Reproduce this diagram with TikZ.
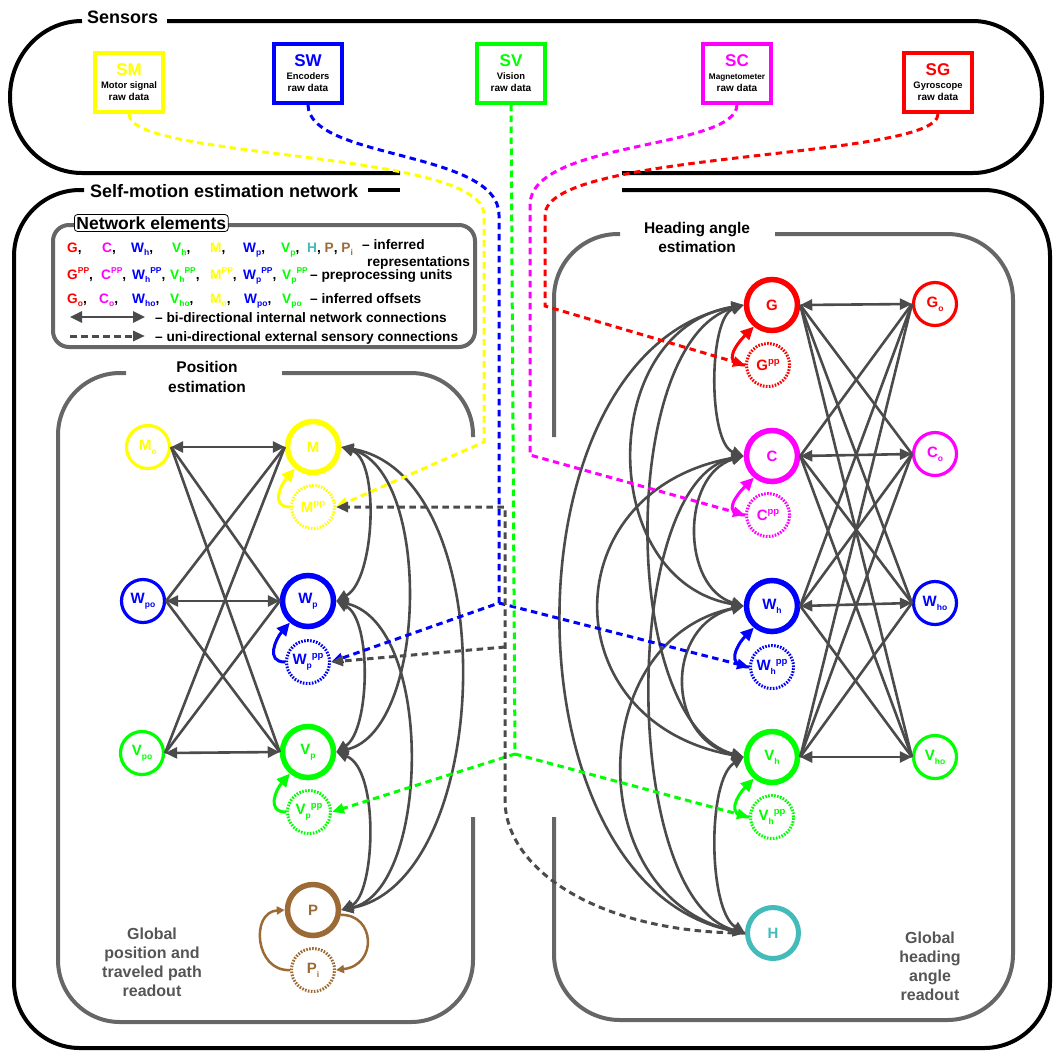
\documentclass[tikz,border=0pt]{standalone}
\usepackage{fontspec}
\setmainfont{Liberation Sans}
\usetikzlibrary{arrows.meta}

\definecolor{cyel}{HTML}{FFFF00}
\definecolor{cblu}{HTML}{0000FF}
\definecolor{cgrn}{HTML}{00FF00}
\definecolor{cmag}{HTML}{FF00FF}
\definecolor{cred}{HTML}{FF0000}
\definecolor{cbrn}{HTML}{9C6A35}
\definecolor{ctea}{HTML}{44BBBB}
\definecolor{lnk}{HTML}{4B4B4B}
\definecolor{pan}{HTML}{666666}
\definecolor{rdt}{HTML}{555555}

% sub- and superscripts inside the unit circles
\newcommand\lo[1]{\raisebox{-0.5ex}{\fontsize{8.5}{8.5}\selectfont #1}}
\newcommand\hi[1]{\raisebox{0.75ex}{\fontsize{9.5}{9.5}\selectfont #1}}
% sub- and superscripts in the legend
\newcommand\llo[1]{\raisebox{-0.5ex}{\fontsize{8.5}{8.5}\selectfont #1}}
\newcommand\lhi[1]{\raisebox{0.7ex}{\fontsize{8.5}{8.5}\selectfont #1}}
\newcommand\lgfont{\bfseries\fontsize{13.7}{14}\selectfont}

\tikzset{
  rep/.style={circle, draw, line width=5.5pt, minimum size=51pt, inner sep=0pt,
    font=\bfseries\fontsize{15}{15}\selectfont},
  off/.style={circle, draw, line width=3.2pt, minimum size=43pt, inner sep=0pt,
    font=\bfseries\fontsize{15}{15}\selectfont},
  ppn/.style={circle, draw, line width=3pt, dash pattern=on 1.6pt off 1.4pt,
    minimum size=43pt, inner sep=0pt, font=\bfseries\fontsize{15}{15}\selectfont},
  sbox/.style={draw, line width=4pt, minimum width=68pt, minimum height=59pt,
    inner sep=0pt, align=center, font=\bfseries},
  link/.style={draw=lnk, line width=2.6pt,
    {Triangle[length=12pt,width=11pt]}-{Triangle[length=12pt,width=11pt]}},
  wire/.style={draw=lnk, line width=2.6pt},
  sense/.style={line width=3pt, dash pattern=on 6.5pt off 4.5pt,
    -{Triangle[length=12pt,width=10pt]}},
  loopa/.style={line width=3pt, -{Triangle[length=13pt,width=12pt]}},
  bloop/.style={line width=2.5pt, cbrn, -{Triangle[length=8pt,width=8pt]}},
  frame/.style={draw=black, line width=4pt},
  panel/.style={draw=pan, line width=4pt},
  lg/.style={anchor=base west, inner sep=0pt, font=\lgfont},
  ttl/.style={anchor=base west, inner sep=0pt, font=\bfseries\fontsize{18}{18}\selectfont},
}

\begin{document}
\begin{tikzpicture}[x=1pt,y=-1pt]
\useasboundingbox (0,0) rectangle (1054,1050);

% ---------------- outer frames ----------------
\draw[frame] (167,21) -- (973,21) .. controls (1011,21) and (1042,55) .. (1042,97)
  .. controls (1042,139) and (1011,173) .. (973,173) -- (622,173);
\draw[frame] (400,173) -- (82,173) .. controls (42,173) and (10,139) .. (10,97)
  .. controls (10,55) and (42,21) .. (82,21);
\node[ttl] (tS) at (87,23) {Sensors};

\draw[frame, rounded corners=66] (622,190) -- (1050,190) -- (1050,1048) -- (14,1048) -- (14,190) -- (84,190);
\draw[frame] (368,190) -- (400,190);
\node[ttl] (tN) at (90,197) {Self-motion estimation network};

% ---------------- panels ----------------
\draw[panel, rounded corners=62] (282,373) -- (473,373) -- (473,437);
\draw[panel, rounded corners=62] (473,817) -- (473,1022) -- (58,1022) -- (58,373) -- (126,373);
\node[align=center, font=\bfseries\fontsize{15.5}{20}\selectfont] (tP) at (207,377) {Position\\estimation};

\draw[panel, rounded corners=64] (554,437) -- (554,234) -- (620,234);
\draw[panel, rounded corners=66] (775,234) -- (1013,234) -- (1013,1020) -- (554,1020) -- (554,817);
\node[align=center, font=\bfseries\fontsize{15.5}{19}\selectfont] (tH) at (697,237) {Heading angle\\estimation};

\node[align=center, text=rdt, font=\bfseries\fontsize{16}{19}\selectfont] (rP) at (152,962)
  {Global\\position and\\traveled path\\readout};
\node[align=center, text=rdt, font=\bfseries\fontsize{16}{19}\selectfont] (rH) at (930,966)
  {Global\\heading\\angle\\readout};

% ---------------- legend ----------------
\draw[panel, rounded corners=16] (53,225) rectangle (475,347);
\node[draw=black, line width=0.8pt, fill=white, rounded corners=3pt, inner xsep=2pt, inner ysep=2pt,
  anchor=west, font=\bfseries\fontsize{17.5}{18}\selectfont] (ne) at (74,223) {Network elements};

\node[lg] (l11) at (67,252) {\textcolor{cred}{G},};
\node[lg] (l12) at (102,252) {\textcolor{cmag}{C},};
\node[lg] (l13) at (131,252) {\textcolor{cblu}{W\llo{h}},};
\node[lg] (l14) at (172,252) {\textcolor{cgrn}{V\llo{h}},};
\node[lg] (l15) at (210,252) {\textcolor{cyel}{M},};
\node[lg] (l16) at (243,252) {\textcolor{cblu}{W\llo{p}},};
\node[lg] (l17) at (281,252) {\textcolor{cgrn}{V\llo{p}},};
\node[lg] (l18) at (307,252) {\textcolor{ctea}{H}, \textcolor{cbrn}{P}, \textcolor{cbrn}{P\llo{i}}};
\node[lg] (l19) at (362,249) {-- inferred};
\node[lg] (l1a) at (367,266) {representations};

\node[lg] (l21) at (67,279) {\textcolor{cred}{G\lhi{PP}},};
\node[lg] (l22) at (101,279) {\textcolor{cmag}{C\lhi{PP}},};
\node[lg] (l23) at (132,279) {\textcolor{cblu}{W\llo{h}\lhi{PP}},};
\node[lg] (l24) at (170,279) {\textcolor{cgrn}{V\llo{h}\lhi{PP}},};
\node[lg] (l25) at (210,279) {\textcolor{cyel}{M\lhi{PP}},};
\node[lg] (l26) at (243,279) {\textcolor{cblu}{W\llo{p}\lhi{PP}},};
\node[lg] (l27) at (282,279) {\textcolor{cgrn}{V\llo{p}\lhi{PP}}};
\node[lg] (l28) at (310,279) {-- preprocessing units};

\node[lg] (l31) at (67,303) {\textcolor{cred}{G\llo{o}},};
\node[lg] (l32) at (99,303) {\textcolor{cmag}{C\llo{o}},};
\node[lg] (l33) at (132,303) {\textcolor{cblu}{W\llo{ho}},};
\node[lg] (l34) at (170,303) {\textcolor{cgrn}{V\llo{ho}},};
\node[lg] (l35) at (210,303) {\textcolor{cyel}{M\llo{o}},};
\node[lg] (l36) at (244,303) {\textcolor{cblu}{W\llo{po}},};
\node[lg] (l37) at (282,303) {\textcolor{cgrn}{V\llo{po}}};
\node[lg] (l38) at (310,303) {-- inferred offsets};

\coordinate (a4s) at (70,317); \coordinate (a4e) at (145,317);
\draw[link] (a4s) -- (a4e);
\node[lg] (l4) at (155,322) {-- bi-directional internal network connections};
\coordinate (a5s) at (70,336); \coordinate (a5e) at (145,336);
\draw[sense, lnk] (a5s) -- (a5e);
\node[lg] (l5) at (155,341) {-- uni-directional external sensory connections};

% ---------------- sensors ----------------
\node[sbox, draw=cyel] (SM) at (129,82.5)
  {\fontsize{17}{18}\selectfont\color{cyel}SM\\[1pt]\fontsize{9.4}{11}\selectfont\color{black}Motor signal\\raw data};
\node[sbox, draw=cblu] (SW) at (308,73)
  {\fontsize{17}{18}\selectfont\color{cblu}SW\\[1pt]\fontsize{9.4}{11}\selectfont\color{black}Encoders\\raw data};
\node[sbox, draw=cgrn] (SV) at (511,73)
  {\fontsize{17}{18}\selectfont\color{cgrn}SV\\[1pt]\fontsize{9.4}{11}\selectfont\color{black}Vision\\raw data};
\node[sbox, draw=cmag] (SC) at (737,73)
  {\fontsize{17}{18}\selectfont\color{cmag}SC\\[1pt]\fontsize{8.2}{10}\selectfont\color{black}Magnetometer\\raw data};
\node[sbox, draw=cred] (SG) at (938,82.5)
  {\fontsize{17}{18}\selectfont\color{cred}SG\\[1pt]\fontsize{9.4}{11}\selectfont\color{black}Gyroscope\\raw data};

% ---------------- position estimation units ----------------
\node[off, draw=cyel, text=cyel] (Mo) at (148,447) {M\lo{o}};
\node[rep, draw=cyel, text=cyel] (M) at (313,447) {M};
\node[ppn, draw=cyel, text=cyel] (Mpp) at (313,507) {M\hi{pp}};
\node[off, draw=cblu, text=cblu] (Wpo) at (143,601) {W\lo{po}};
\node[rep, draw=cblu, text=cblu] (Wp) at (308,601) {W\lo{p}};
\node[ppn, draw=cblu, text=cblu] (Wppp) at (308,662) {W\lo{p}\hi{pp}};
\node[off, draw=cgrn, text=cgrn] (Vpo) at (142,753) {V\lo{po}};
\node[rep, draw=cgrn, text=cgrn] (Vp) at (308,752) {V\lo{p}};
\node[ppn, draw=cgrn, text=cgrn] (Vppp) at (309,812) {V\lo{p}\hi{pp}};
\node[rep, draw=cbrn, text=cbrn] (P) at (313,910) {P};
\node[ppn, draw=cbrn, text=cbrn] (Pi) at (313,970) {P\lo{i}};

% ---------------- heading estimation units ----------------
\node[rep, draw=cred, text=cred] (G) at (772,305) {G};
\node[ppn, draw=cred, text=cred] (Gpp) at (768,365) {G\hi{pp}};
\node[off, draw=cred, text=cred] (Go) at (935,304) {G\lo{o}};
\node[rep, draw=cmag, text=cmag] (C) at (772,456) {C};
\node[ppn, draw=cmag, text=cmag] (Cpp) at (768,515) {C\hi{pp}};
\node[off, draw=cmag, text=cmag] (Co) at (935,454) {C\lo{o}};
\node[rep, draw=cblu, text=cblu] (Wh) at (772,606) {W\lo{h}};
\node[ppn, draw=cblu, text=cblu] (Whpp) at (772,667) {W\lo{h}\hi{pp}};
\node[off, draw=cblu, text=cblu] (Who) at (935,603) {W\lo{ho}};
\node[rep, draw=cgrn, text=cgrn] (Vh) at (772,757) {V\lo{h}};
\node[ppn, draw=cgrn, text=cgrn] (Vhpp) at (772,817) {V\lo{h}\hi{pp}};
\node[off, draw=cgrn, text=cgrn] (Vho) at (935,757) {V\lo{ho}};
\node[rep, draw=ctea, text=ctea, line width=5pt] (H) at (773,933) {H};

% ---------------- offsets <-> representations ----------------
\draw[link] (Mo.east) -- (M.west);
\draw[link] (Wpo.east) -- (Wp.west);
\draw[link] (Vpo.east) -- (Vp.west);
\foreach \a/\b in {Mo/Wp, Mo/Vp, Wpo/M, Wpo/Vp, Vpo/M, Vpo/Wp}
  {\draw[wire] (\a.east) -- (\b.west);}

\draw[link] (G.east) -- (Go.west);
\draw[link] (C.east) -- (Co.west);
\draw[link] (Wh.east) -- (Who.west);
\draw[link] (Vh.east) -- (Vho.west);
\foreach \a/\b in {G/Co, G/Who, G/Vho, C/Go, C/Who, C/Vho, Wh/Go, Wh/Co, Wh/Vho, Vh/Go, Vh/Co, Vh/Who}
  {\draw[wire] (\a.east) -- (\b.west);}

% ---------------- position network links ----------------
\draw[link] (M.east) .. controls (380,460) and (375,580) .. (Wp.east);
\draw[link] (M.east) .. controls (432,470) and (428,730) .. (Vp.east);
\draw[link] (M.east) .. controls (505,475) and (495,880) .. (P.east);
\draw[link] (Wp.east) .. controls (372,620) and (370,730) .. (Vp.east);
\draw[link] (Wp.east) .. controls (435,625) and (430,890) .. (P.east);
\draw[link] (Vp.east) .. controls (380,770) and (375,895) .. (P.east);

% ---------------- heading network links ----------------
\draw[link] (G.west) .. controls (708,318) and (708,443) .. (C.west);
\draw[link] (C.west) .. controls (681,475) and (681,587) .. (Wh.west);
\draw[link] (Wh.west) .. controls (665,625) and (665,738) .. (Vh.west);
\draw[link] (Vh.west) .. controls (707,780) and (708,910) .. (H.west);
\draw[link] (G.west) .. controls (596,330) and (596,581) .. (Wh.west);
\draw[link] (C.west) .. controls (552,490) and (552,723) .. (Vh.west);
\draw[link] (Wh.west) .. controls (582,640) and (583,899) .. (H.west);
\draw[link] (G.west) .. controls (619,340) and (619,722) .. (Vh.west);
\draw[link] (C.west) .. controls (620,480) and (620,900) .. (H.west);
\draw[link] (G.west) .. controls (501,350) and (502,888) .. (H.west);

% ---------------- preprocessing feed-in ----------------
\draw[loopa, cyel] (Mpp.west) .. controls +(-20,0) and +(-14,16) .. (M.-130);
\draw[loopa, cblu] (Wppp.west) .. controls +(-20,0) and +(-14,16) .. (Wp.-130);
\draw[loopa, cgrn] (Vppp.west) .. controls +(-20,0) and +(-14,16) .. (Vp.-130);
\draw[loopa, cred] (Gpp.west) .. controls +(-25,0) and +(-16,16) .. (G.-130);
\draw[loopa, cmag] (Cpp.west) .. controls +(-25,0) and +(-16,16) .. (C.-130);
\draw[loopa, cblu] (Whpp.west) .. controls +(-25,0) and +(-16,16) .. (Wh.-130);
\draw[loopa, cgrn] (Vhpp.west) .. controls +(-25,0) and +(-16,16) .. (Vh.-130);

\draw[bloop] (Pi.west) .. controls (255,972) and (250,912) .. (P.west);
\draw[bloop] (P.-10) .. controls (375,914) and (378,965) .. (Pi.east);

% ---------------- sensory connections ----------------
\coordinate (bc) at (499,603);
\coordinate (gc) at (515,754);
\coordinate (ht) at (505,507);
\coordinate (hm) at (505,647);
\coordinate (hb) at (505,800);

\draw[sense, cyel] (SM.south) .. controls (129,160) and (484,150) .. (484,215) -- (484,442) -- (Mpp.east);
\draw[sense, cblu] (SW.south) .. controls (308,160) and (499,150) .. (499,215) -- (bc) -- (Wppp.east);
\draw[sense, cblu] (bc) -- (Whpp.west);
\draw[sense, cgrn] (SV.south) -- (gc) -- (Vppp.east);
\draw[sense, cgrn] (gc) -- (Vhpp.west);
\draw[sense, cmag] (SC.south) .. controls (737,150) and (530,140) .. (530,205) -- (530,455) -- (Cpp.west);
\draw[sense, cred] (SG.south) .. controls (938,160) and (545,150) .. (545,215) -- (545,306) -- (Gpp.west);
\draw[sense, lnk] (H.west) .. controls (600,933) and (505,870) .. (hb) -- (ht) -- (Mpp.east);
\draw[sense, lnk] (hm) -- (Wppp.east);

\end{tikzpicture}
\end{document}
